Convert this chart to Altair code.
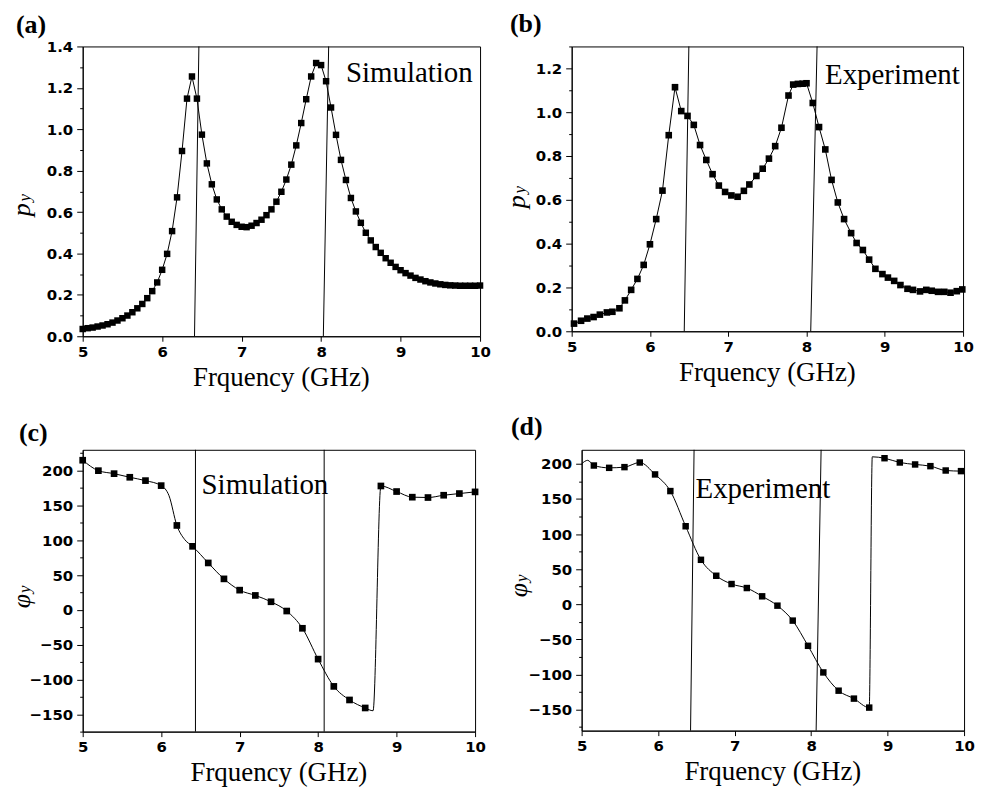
import altair as alt
import pandas as pd

# ---------------- data ----------------
# (a) simulation amplitude, 0.0625 GHz sampling
a_x = [5 + 0.0625 * i for i in range(81)]
a_y = [0.035, 0.039, 0.042, 0.047, 0.052, 0.058, 0.066, 0.076, 0.087, 0.100,
       0.116, 0.135, 0.156, 0.184, 0.218, 0.260, 0.321, 0.398, 0.508, 0.671,
       0.895, 1.148, 1.255, 1.148, 0.974, 0.835, 0.734, 0.661, 0.613, 0.578,
       0.553, 0.538, 0.529, 0.527, 0.534, 0.547, 0.563, 0.585, 0.613, 0.650,
       0.698, 0.757, 0.829, 0.922, 1.030, 1.145, 1.255, 1.320, 1.310, 1.232,
       1.105, 0.973, 0.852, 0.755, 0.668, 0.603, 0.548, 0.500, 0.463, 0.431,
       0.403, 0.377, 0.355, 0.335, 0.319, 0.305, 0.293, 0.282, 0.274, 0.266,
       0.260, 0.255, 0.251, 0.248, 0.246, 0.245, 0.244, 0.244, 0.244, 0.244,
       0.245]

# (b) experiment amplitude
b_x = [5.03, 5.12, 5.20, 5.28, 5.36, 5.45, 5.52, 5.61, 5.68, 5.76,
       5.84, 5.92, 6.00, 6.08, 6.16, 6.24, 6.32, 6.40, 6.48, 6.56,
       6.64, 6.72, 6.80, 6.88, 6.96, 7.04, 7.12, 7.20, 7.27, 7.36,
       7.44, 7.52, 7.60, 7.68, 7.77, 7.83, 7.89, 7.95, 8.00, 8.08,
       8.16, 8.24, 8.32, 8.40, 8.48, 8.57, 8.64, 8.72, 8.80, 8.88,
       8.97, 9.04, 9.12, 9.20, 9.29, 9.36, 9.45, 9.53, 9.60, 9.68,
       9.76, 9.84, 9.92, 9.99]
b_y = [0.035, 0.048, 0.058, 0.065, 0.076, 0.086, 0.089, 0.105, 0.141, 0.189,
       0.239, 0.303, 0.397, 0.512, 0.642, 0.895, 1.114, 1.005, 0.983, 0.942,
       0.850, 0.782, 0.717, 0.665, 0.636, 0.620, 0.614, 0.641, 0.670, 0.709,
       0.742, 0.788, 0.845, 0.929, 1.076, 1.126, 1.129, 1.130, 1.132, 1.042,
       0.932, 0.830, 0.691, 0.588, 0.512, 0.448, 0.403, 0.371, 0.327, 0.285,
       0.261, 0.245, 0.230, 0.211, 0.194, 0.189, 0.182, 0.189, 0.185, 0.180,
       0.180, 0.176, 0.183, 0.191]

# (c) simulation phase: markers and the smooth line through them
c_x = [5.0, 5.2, 5.4, 5.6, 5.8, 6.0, 6.2, 6.4, 6.6, 6.8, 7.0, 7.2, 7.4,
       7.6, 7.8, 8.0, 8.2, 8.4, 8.6, 8.8, 9.0, 9.2, 9.4, 9.6, 9.8, 10.0]
c_y = [215, 200, 195.7, 190.5, 185.7, 178.5, 121.3, 91.3, 67.4, 44.5, 28.3,
       20.7, 11.6, -1.7, -26.5, -70.8, -110, -129.5, -141, 178, 170, 161.9,
       161.4, 164.7, 167.1, 169.5]
c_extra_x = [6.1, 6.3, 8.7]
c_extra_y = [164, 101, -145]

# (d) experiment phase
d_x = [5.16, 5.36, 5.56, 5.76, 5.96, 6.16, 6.36, 6.56, 6.76, 6.96, 7.16,
       7.36, 7.56, 7.76, 7.96, 8.16, 8.36, 8.56, 8.76, 8.96, 9.16, 9.36,
       9.56, 9.76, 9.96]
d_y = [197.6, 194.3, 195.3, 201.9, 184.9, 161.2, 111.1, 63.3, 40.6, 28.8,
       23.1, 11.3, -2.0, -23.3, -59.2, -97.1, -123.1, -134.4, -147.2, 208.0,
       201.9, 199.1, 196.7, 190.5, 189.6]
d_extra_x = [5.0, 5.08, 8.80]
d_extra_y = [200, 205, 210]

# guide lines (frequency at top, frequency at bottom)
a_lines_top = [6.462, 8.095]
a_lines_bot = [6.407, 8.028]
b_lines_top = [6.497, 8.135]
b_lines_bot = [6.438, 8.054]
c_lines_top = [6.437, 8.077]
c_lines_bot = [6.437, 8.077]
d_lines_top = [6.470, 8.131]
d_lines_bot = [6.424, 8.066]

x_ticks = [5 + 0.5 * i for i in range(11)]

SERIF = "Liberation Serif"
SANS = "DejaVu Sans"
LABEL = dict(labelFont=SANS, labelFontWeight="bold", labelFontSize=15,
             labelColor="black")


def txt(s, x, y, size, weight="normal", style="normal", align="left",
        baseline="alphabetic", angle=0):
    return alt.Chart(pd.DataFrame({"t": [s]})).mark_text(
        font=SERIF, fontSize=size, fontWeight=weight, fontStyle=style,
        align=align, baseline=baseline, angle=angle, color="black"
    ).encode(text="t:N", x=alt.value(x), y=alt.value(y))


def panel(mx, my, lx, ly, ltop, lbot, ydom, yticks, ytest, yfmt, w, h, box,
          letter, lpos, word, wpos, sym, spos, subpos, msize, interp):
    X = alt.X("x:Q", scale=alt.Scale(domain=[5, 10], nice=False, zero=False),
              axis=alt.Axis(values=x_ticks, format="d",
                            labelExpr="datum.value % 1 == 0 ? datum.label : ''",
                            tickSize={"condition": {"test": "datum.value % 1 == 0", "value": 5}, "value": 3},
                            labelPadding=3, labelFlush=False, labelOverlap=False,
                            title=None, **LABEL))
    Y = alt.Y("y:Q", scale=alt.Scale(domain=ydom, nice=False, zero=False),
              axis=alt.Axis(values=yticks, format=yfmt,
                            labelExpr=f"({ytest}) ? datum.label : ''",
                            tickSize={"condition": {"test": ytest, "value": 6}, "value": 3},
                            labelPadding=4, labelFlush=False, labelOverlap=False,
                            title=None, **LABEL))
    mdf = pd.DataFrame({"x": mx, "y": my})
    ldf = pd.DataFrame({"x": lx, "y": ly}).sort_values("x")
    vdf = pd.DataFrame({"x": ltop, "x2": lbot,
                        "y": [ydom[1]] * len(ltop), "y2": [ydom[0]] * len(ltop)})
    line = alt.Chart(ldf).mark_line(color="black", strokeWidth=1,
                                    interpolate=interp).encode(x=X, y=Y)
    pts = alt.Chart(mdf).mark_square(color="black", size=msize, opacity=1).encode(x=X, y=Y)
    rules = alt.Chart(vdf).mark_rule(color="black", strokeWidth=1).encode(
        x=X, x2="x2:Q", y=Y, y2="y2:Q")
    frame = alt.Chart(pd.DataFrame({"k": [0]})).mark_rect(opacity=0).encode(
        x=alt.value(box[0]), x2=alt.value(box[1]),
        y=alt.value(box[2]), y2=alt.value(box[3]))
    layers = [rules, line, pts, frame,
              txt(letter, lpos[0], lpos[1], 26, weight="bold", baseline="middle"),
              txt(word, wpos[0], wpos[1], 29, align="center"),
              txt("Frquency (GHz)", w / 2, h + 50, 27, align="center"),
              txt(sym, spos[0], spos[1], 26, style="italic", align="center",
                  baseline="middle", angle=270),
              txt("y", subpos[0], subpos[1], 17, style="italic", align="center",
                  baseline="middle", angle=270)]
    return alt.layer(*layers).properties(width=w, height=h)


test02 = "round(datum.value * 10) % 2 == 0"
test50 = "datum.value % 50 == 0"

pa = panel(a_x, a_y, a_x, a_y, a_lines_top, a_lines_bot, [0, 1.4],
           [round(0.1 * i, 1) for i in range(15)], test02, ".1f",
           399, 291, (-72, 410, -35, 354),
           "(a)", (-67, -22), "Simulation", (328, 36), "p", (-61, 164), (-58, 152),
           42, "linear")
pb = panel(b_x, b_y, b_x, b_y, b_lines_top, b_lines_bot, [0, 1.3],
           [round(0.1 * i, 1) for i in range(14)], test02, ".1f",
           393, 286, (-79, 406, -36, 353),
           "(b)", (-62, -23), "Experiment", (322, 38), "p", (-55, 156), (-52, 144),
           44, "linear")
pc = panel(c_x, c_y, c_x + c_extra_x, c_y + c_extra_y, c_lines_top, c_lines_bot,
           [-175, 230], [-175 + 25 * i for i in range(17)], test50, "d",
           394, 283, (-71, 411, -49, 336),
           "(c)", (-64, -17), "Simulation", (183, 44), "φ", (-61, 152), (-58, 140),
           45, "monotone")
pd_ = panel(d_x, d_y, d_x + d_extra_x, d_y + d_extra_y, d_lines_top, d_lines_bot,
            [-180, 220], [-175 + 25 * i for i in range(16)], test50, "d",
            384, 282, (-88, 397, -49, 336),
            "(d)", (-71, -23), "Experiment", (182, 48), "φ", (-63, 141), (-60, 129),
            42, "monotone")

row1 = alt.hconcat(pa, pb, spacing=0)
row2 = alt.hconcat(pc, pd_, spacing=0)
chart = alt.vconcat(row1, row2, spacing=0).properties(
    padding=0, background="white"
).configure_view(
    stroke="black", strokeWidth=1
).configure_axis(
    grid=False, domainColor="black", domainWidth=1, tickColor="black",
    tickWidth=1, labelColor="black", labelFont=SANS, labelFontWeight="bold",
    labelFontSize=15
)

chart.save("out.html", embed_options={"renderer": "svg", "actions": False})
